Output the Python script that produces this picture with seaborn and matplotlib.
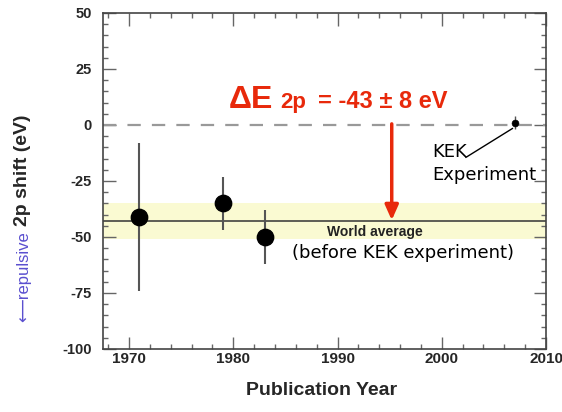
import matplotlib
matplotlib.use('Agg')
import matplotlib.pyplot as plt
import seaborn as sns
import pandas as pd
from matplotlib.ticker import MultipleLocator

# ---- data ----
years = [1971, 1979, 1983]
shifts = [-41, -35, -50]
errors = [33, 12, 12]
kek_year = [2007]
kek_shift = [1]
kek_err = [3]
world_avg = -43
world_err = 8
arrow_year = 1995.2
x_ticks = [1970, 1980, 1990, 2000, 2010]
y_ticks = [-100, -75, -50, -25, 0, 25, 50]

sns.set_style('ticks')
plt.rcParams['font.family'] = ['Liberation Sans', 'DejaVu Sans']
plt.rcParams['axes.unicode_minus'] = False

W, H = 562, 412
fig = plt.figure(figsize=(W / 100, H / 100), dpi=100)
ax = fig.add_axes([103 / W, 1 - 349 / H, (546 - 103) / W, (349 - 13) / H])
ax.set_xlim(1967.5, 2009.5)
ax.set_ylim(-100, 50)

red = '#e8290b'

ax.axhspan(world_avg - world_err, world_avg + world_err, color='#fafad2', lw=0, zorder=0)
ax.axhline(world_avg, color='#333333', lw=1.1, zorder=1)
ax.axhline(0, color='#999999', lw=1.6, dashes=(6, 5), zorder=1)

df = pd.DataFrame({'year': years, 'shift': shifts, 'err': errors})
ax.errorbar(df['year'], df['shift'], yerr=df['err'], fmt='none', ecolor='#555555',
            elinewidth=1.5, capsize=0, zorder=3)
sns.scatterplot(data=df, x='year', y='shift', color='black', s=140, edgecolor='black',
                ax=ax, zorder=5, legend=False)

kek = pd.DataFrame({'year': kek_year, 'shift': kek_shift, 'err': kek_err})
ax.errorbar(kek['year'], kek['shift'], yerr=kek['err'], fmt='none', ecolor='#555555',
            elinewidth=1.0, capsize=0, zorder=3)
sns.scatterplot(data=kek, x='year', y='shift', color='black', s=25, edgecolor='black',
                ax=ax, zorder=5, legend=False)

# red arrow
ax.annotate('', xy=(arrow_year, world_avg + 0.5), xytext=(arrow_year, 0.5),
            arrowprops=dict(arrowstyle='-|>,head_length=0.9,head_width=0.4',
                            color=red, lw=2.5, shrinkA=0, shrinkB=0), zorder=6)

# KEK annotation line
ax.annotate('', xy=(2006.8, -1.5), xytext=(2002.3, -14.5),
            arrowprops=dict(arrowstyle='-', color='black', lw=1.0, shrinkA=0, shrinkB=0))

ax.set_xticks(x_ticks)
ax.set_yticks(y_ticks)
ax.xaxis.set_minor_locator(MultipleLocator(2))
ax.yaxis.set_minor_locator(MultipleLocator(5))
ax.tick_params(which='both', direction='in', top=True, right=True, color='#666666', width=1.0)
ax.tick_params(which='major', length=9)
ax.tick_params(which='minor', length=3.5)
ax.tick_params(axis='x', pad=2, labelsize=11)
ax.tick_params(axis='y', pad=8, labelsize=10.5)
for lab in ax.get_xticklabels() + ax.get_yticklabels():
    lab.set_fontweight('bold')
for s in ax.spines.values():
    s.set_color('#444444')
    s.set_linewidth(1.2)
ax.set_xlabel('')
ax.set_ylabel('')

# axis labels
fig.text(321.5 / W, 1 - 395 / H, 'Publication Year', fontsize=14, fontweight='bold',
         ha='center', va='baseline')
fig.text(23 / W, 1 - 170 / H, '2p shift (eV)', fontsize=14, fontweight='bold',
         rotation=90, ha='center', va='center')
fig.text(24 / W, 1 - 277 / H, '\u27f5repulsive', fontsize=12, color='#5a4fcf',
         rotation=90, ha='center', va='center')

# headline
fig.text(229 / W, 1 - 108 / H, '\u0394E', fontsize=23, fontweight='bold', color=red,
         va='baseline')
fig.text(280 / W, 1 - 108 / H, '2p', fontsize=16, fontweight='bold', color=red,
         va='baseline')
fig.text(318 / W, 1 - 108 / H, '= -43 \u00b1 8 eV', fontsize=17, fontweight='bold', color=red,
         va='baseline')

# other annotations
fig.text(375 / W, 1 - 236 / H, 'World average', fontsize=10, fontweight='bold',
         color='#222222', ha='center', va='baseline')
fig.text(292 / W, 1 - 258 / H, '(before KEK experiment)', fontsize=13, family='DejaVu Sans',
         color='black', ha='left', va='baseline')
fig.text(432 / W, 1 - 157 / H, 'KEK', fontsize=13, family='DejaVu Sans', color='black',
         va='baseline')
fig.text(432 / W, 1 - 180 / H, 'Experiment', fontsize=13, family='DejaVu Sans', color='black',
         va='baseline')

fig.savefig('out.png', dpi=100)
